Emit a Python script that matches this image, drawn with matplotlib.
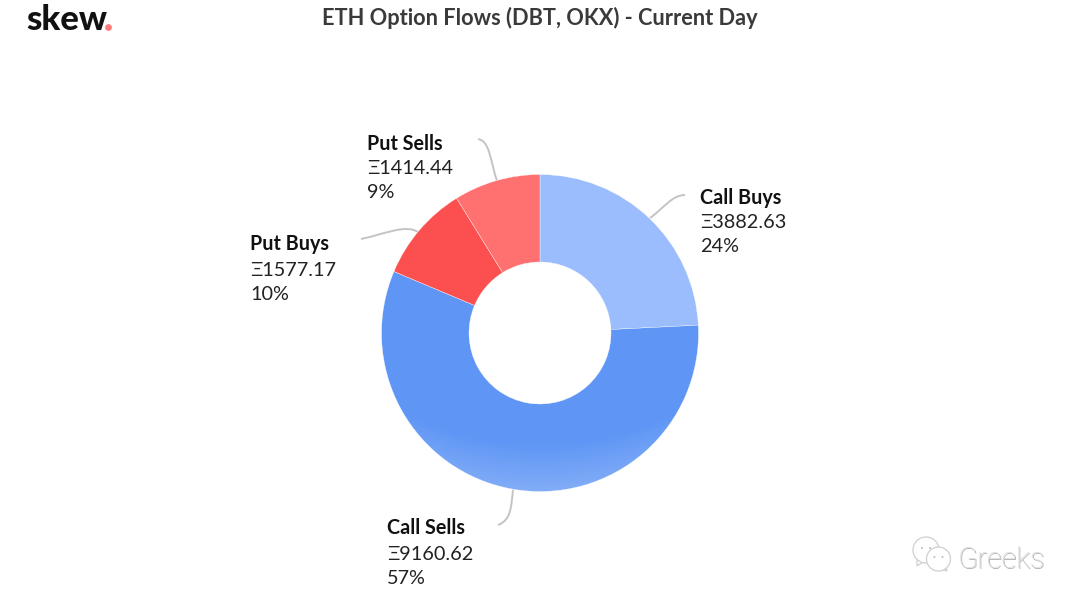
import numpy as np
import matplotlib
matplotlib.use("Agg")
import matplotlib.pyplot as plt
from matplotlib.path import Path
from matplotlib.patches import PathPatch, Circle, Polygon, Wedge

categories = ["Call Buys", "Call Sells", "Put Buys", "Put Sells"]
values = [3882.63, 9160.62, 1577.17, 1414.44]
percent_labels = ["24%", "57%", "10%", "9%"]
colors = ["#9BBCFD", "#5F96F5", "#FC5050", "#FF7070"]
title = "ETH Option Flows (DBT, OKX) - Current Day"

CX, CY, R, RI = 540, 333, 158.5, 71
label_xy = {"Call Buys": (700, 203.5), "Call Sells": (387, 534.5),
            "Put Buys": (250, 250.5), "Put Sells": (367, 149.5)}
connectors = {
    "Call Buys": [(650, 218), (664, 208), (672, 195), (685, 195)],
    "Call Sells": [(513, 490), (511, 508), (511, 520), (498, 525)],
    "Put Buys": [(361, 239), (385, 234), (405, 224), (418, 232)],
    "Put Sells": [(478, 139), (490, 141), (490, 160), (497, 181)],
}

fig = plt.figure(figsize=(10.8, 6.03), dpi=100)
ax = fig.add_axes([0, 0, 1, 1])
ax.set_xlim(0, 1080)
ax.set_ylim(603, 0)
ax.axis("off")

font = ["Lato", "DejaVu Sans"]

# y axis is inverted, so angles run clockwise on screen
fracs = np.array(values) / sum(values)
start = -90.0
wedges = {}
for name, f, c in zip(categories, fracs, colors):
    w = Wedge((CX, CY), R, start, start + 360 * f, width=R - RI, facecolor=c,
              edgecolor="white", linewidth=0.25, zorder=2)
    ax.add_patch(w)
    wedges[name] = w
    start += 360 * f

# lighter rim at the bottom of the large slice
yy, xx = np.mgrid[0:603, 0:1080]
d = np.hypot(xx - CX, (yy - (CY - 200)))
alpha = np.clip((d - 310) / 48, 0, 1) * 0.22
rgba = np.ones((603, 1080, 4))
rgba[..., 3] = alpha
im = ax.imshow(rgba, extent=(0, 1080, 603, 0), zorder=3, aspect="auto")
im.set_clip_path(wedges["Call Sells"])
ax.set_xlim(0, 1080)
ax.set_ylim(603, 0)

for name, pts in connectors.items():
    p = Path(pts, [Path.MOVETO, Path.CURVE4, Path.CURVE4, Path.CURVE4])
    ax.add_patch(PathPatch(p, fc="none", ec="#C4C4C4", lw=1.4, zorder=1))

for name, v, pct in zip(categories, values, percent_labels):
    x, y = label_xy[name]
    ax.text(x, y, name, family=font, fontsize=14.2, fontweight="bold", color="#111111",
            ha="left", va="baseline")
    ax.text(x, y + 25, f"\u039e{v:.2f}", family=font, fontsize=14.3, color="#222222",
            ha="left", va="baseline")
    ax.text(x, y + 49, pct, family=font, fontsize=14.3, color="#222222",
            ha="left", va="baseline")

ax.text(540, 25, title, family=font, fontsize=15.7, fontweight="bold", color="#3A3A3A",
        ha="center", va="baseline")
ax.text(26, 30, "skew", family="Lato", fontsize=25, fontweight="black",
        color="#111111", ha="left", va="baseline")
ax.add_patch(Circle((108.5, 27.5), 3.4, fc="#FF7B7B", ec="none"))

# watermark
for dx, dy, col in ((0.7, 0.7, "#A8A8A8"), (0, 0, "#DADADA")):
    ax.text(958 + dx, 568 + dy, "Greeks", family="Roboto", fontsize=21, fontweight="light",
            color=col, ha="left", va="baseline")
tails = [[(917, 556), (917, 566), (926, 560)], [(945, 564), (947, 571), (939, 568)]]
for c, r, tail in (((926, 550), 13, tails[0]), ((938.5, 559), 12, tails[1])):
    ax.add_patch(Polygon(tail, closed=True, fc="white", ec="#CFCFCF", lw=0.9))
    ax.add_patch(Circle(c, r, fc="white", ec="#CFCFCF", lw=0.9))
    ax.add_patch(Circle((c[0] - 4, c[1] - 2), 1, fc="#BDBDBD", ec="none"))
    ax.add_patch(Circle((c[0] + 4, c[1] - 2), 1, fc="#BDBDBD", ec="none"))

fig.savefig("out.png", dpi=100)
